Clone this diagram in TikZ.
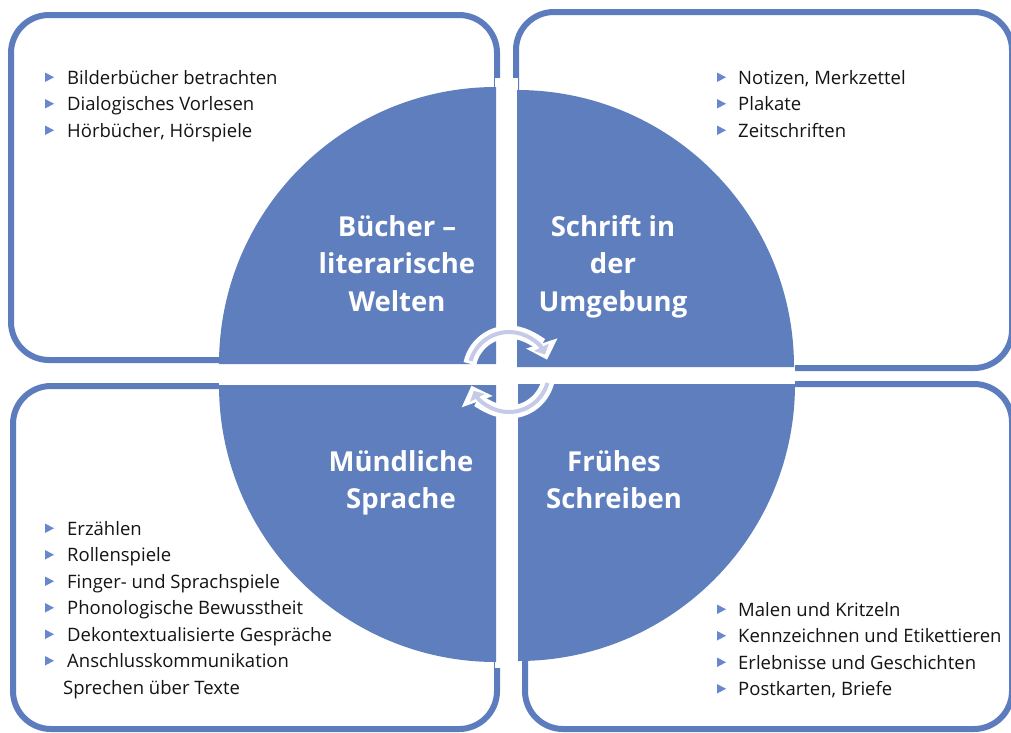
\documentclass[tikz,border=0pt]{standalone}
\usepackage{fontspec}
\setmainfont{Open Sans}
\usetikzlibrary{arrows.meta}
\definecolor{circ}{RGB}{94,126,190}
\definecolor{bord}{RGB}{92,124,190}
\definecolor{bulc}{RGB}{105,135,205}
\definecolor{arin}{RGB}{196,202,232}
\definecolor{txt}{RGB}{20,20,20}
\begin{document}
\begin{tikzpicture}[x=1pt,y=-1pt,
  box/.style={draw=bord,line width=6pt,fill=white,rounded corners=38pt},
  item/.style={anchor=base west,inner sep=0pt,text=txt,font=\fontsize{18.5}{22}\selectfont},
  title/.style={anchor=base,inner sep=0pt,text=white,font=\fontsize{27.5}{32}\selectfont\bfseries},
  quad/.style={fill=circ},
  arrout/.style={draw=white,line width=13pt,-{Triangle[length=17pt,width=32pt]}},
  arrinn/.style={draw=arin,line width=4pt,-{Triangle[length=8pt,width=16pt]}}]
\useasboundingbox (0,0) rectangle (1011,732);
% boxes
\draw[box] (11,15) rectangle (497,360);
\draw[box] (516,12) rectangle (1012,368);
\draw[box] (13,386) rectangle (497,729);
\draw[box] (525,384) rectangle (1012,729);
% white gaps
\fill[white] (495,78) rectangle (518,668);
\fill[white] (219,364) rectangle (795,385);
% quadrants
\fill[quad] (496,364) -- (219,364) arc[start angle=180,end angle=270,radius=277] -- cycle;
\fill[quad] (517,367) -- (517,90) arc[start angle=270,end angle=360,radius=277] -- cycle;
\fill[quad] (518,384) -- (795,384) arc[start angle=0,end angle=90,radius=277] -- cycle;
\fill[quad] (496,385) -- (496,662) arc[start angle=90,end angle=180,radius=277] -- cycle;
% circular arrows
\coordinate (ac) at (509,372);
\draw[arrout] (ac) ++(-168:40) arc[start angle=-168,end angle=-18,radius=40];
\draw[arrinn] (ac) ++(-164:40) arc[start angle=-164,end angle=-26,radius=40];
\draw[arrout] (ac) ++(12:40) arc[start angle=12,end angle=160,radius=40];
\draw[arrinn] (ac) ++(16:40) arc[start angle=16,end angle=152,radius=40];
% titles
\node[title] (t1a) at (397,236) {Bücher –};
\node[title] (t1b) at (397,273.5) {literarische};
\node[title] (t1c) at (397,311) {Welten};
\node[title] (t2a) at (613,236) {Schrift in};
\node[title] (t2b) at (613,273.5) {der};
\node[title] (t2c) at (613,311) {Umgebung};
\node[title] (t3a) at (401,471) {Mündliche};
\node[title] (t3b) at (401,508.5) {Sprache};
\node[title] (t4a) at (614,471) {Frühes};
\node[title] (t4b) at (614,508.5) {Schreiben};
% lists
\foreach \t [count=\i from 0] in {Bilderbücher betrachten, Dialogisches Vorlesen, {Hörbücher, Hörspiele}} {
  \node[item] (l1\i) at (67,84+26.5*\i) {\t};
  \fill[bulc] (45,82+26.5*\i) -- (45,72.5+26.5*\i) -- (54,77.25+26.5*\i) -- cycle;
}
\foreach \t [count=\i from 0] in {{Notizen, Merkzettel}, Plakate, Zeitschriften} {
  \node[item] (l2\i) at (738,84+26.5*\i) {\t};
  \fill[bulc] (717,82+26.5*\i) -- (717,72.5+26.5*\i) -- (726,77.25+26.5*\i) -- cycle;
}
\foreach \t [count=\i from 0] in {Erzählen, Rollenspiele, Finger- und Sprachspiele, Phonologische Bewusstheit, Dekontextualisierte Gespräche, Anschlusskommunikation} {
  \node[item] (l3\i) at (67,535+26.5*\i) {\t};
  \fill[bulc] (45,533+26.5*\i) -- (45,523.5+26.5*\i) -- (54,528.25+26.5*\i) -- cycle;
}
\node[item] (l36) at (63,694) {Sprechen über Texte};
\foreach \t [count=\i from 0] in {Malen und Kritzeln, Kennzeichnen und Etikettieren, Erlebnisse und Geschichten, {Postkarten, Briefe}} {
  \node[item] (l4\i) at (738,616+26.5*\i) {\t};
  \fill[bulc] (717,614+26.5*\i) -- (717,604.5+26.5*\i) -- (726,609.25+26.5*\i) -- cycle;
}
\end{tikzpicture}
\end{document}
